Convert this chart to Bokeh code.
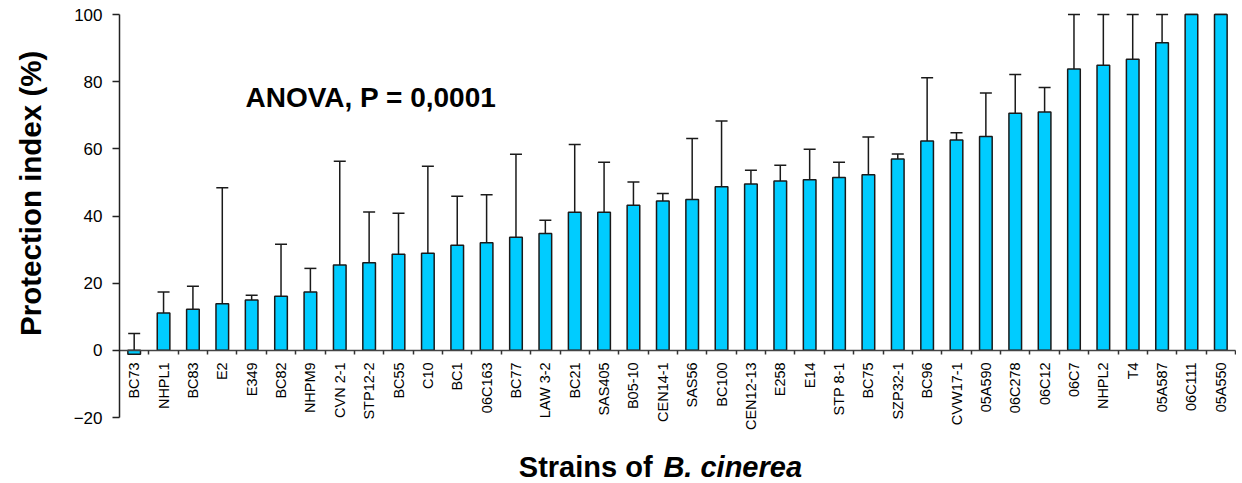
import math
from bokeh.plotting import figure
from bokeh.models import (Range1d, FixedTicker, ColumnDataSource, Whisker, TeeHead, Label)
from bokeh.core.properties import value
from bokeh.embed import file_html
from bokeh.resources import INLINE

# ---- data ----
strains = ["BC73", "NHPL1", "BC83", "E2", "E349", "BC82", "NHPM9", "CVN 2-1", "STP12-2",
           "BC55", "C10", "BC1", "06C163", "BC77", "LAW 3-2", "BC21", "SAS405", "B05-10",
           "CEN14-1", "SAS56", "BC100", "CEN12-13", "E258", "E14", "STP 8-1", "BC75",
           "SZP32-1", "BC96", "CVW17-1", "05A590", "06C278", "06C12", "06C7", "NHPL2",
           "T4", "05A587", "06C111", "05A550"]
protection = [-1.2, 11.1, 12.2, 13.9, 15.0, 16.1, 17.4, 25.4, 26.1, 28.6, 28.9, 31.3,
              32.0, 33.7, 34.8, 41.1, 41.1, 43.2, 44.5, 44.9, 48.7, 49.5, 50.4, 50.8,
              51.5, 52.3, 57.0, 62.3, 62.6, 63.7, 70.6, 71.0, 83.8, 84.9, 86.7, 91.6,
              100.0, 100.0]
error_upper = [5.0, 17.4, 19.1, 48.4, 16.4, 31.6, 24.4, 56.3, 41.2, 40.8, 54.8, 45.9,
               46.3, 58.4, 38.7, 61.3, 56.0, 50.1, 46.7, 63.1, 68.3, 53.6, 55.1, 59.9,
               56.0, 63.5, 58.5, 81.2, 64.8, 76.6, 82.1, 78.3, 100.0, 100.0, 100.0, 100.0,
               100.0, 100.0]
y_ticks = [-20, 0, 20, 40, 60, 80, 100]
y_title = "Protection index (%)"
x_title_plain = "Strains of"
x_title_italic = "B. cinerea"
note = "ANOVA, P = 0,0001"

n = len(strains)
centers = [i + 0.5 for i in range(n)]
boundaries = [i + 1 for i in range(n)]

src = ColumnDataSource(dict(x=centers, strain=strains, mean=protection, upper=error_upper))

FONT = "Liberation Sans"
INK = "#1a1a1a"

# The frame covers the whole canvas; both axes are pinned at the data origin,
# so every text lies inside the frame.
p = figure(width=1236, height=483,
           x_range=Range1d(-4.052, n + 0.034), y_range=Range1d(-39.65, 104.17),
           output_backend="svg", toolbar_location=None,
           min_border_left=0, min_border_right=0, min_border_top=0, min_border_bottom=0)
p.outline_line_color = None
p.xgrid.visible = False
p.ygrid.visible = False
p.background_fill_color = "white"

p.vbar(x="x", top="mean", bottom=0, width=0.43, source=src,
       fill_color="#00CCFF", line_color=INK, line_width=1.5)

wh = Whisker(source=src, base="x", upper="upper", lower="mean", dimension="height",
             line_color=INK, line_width=1.5,
             upper_head=TeeHead(size=12, line_color=INK, line_width=1.5),
             lower_head=None)
p.add_layout(wh)

# strain names hanging under the y = 0 axis line, rotated
p.text(x="x", y=0, text="strain", source=src, angle=math.pi / 2,
       text_align="right", text_baseline="middle", y_offset=12,
       text_font=value(FONT), text_font_size=value("14.5px"), text_color="black")

# x axis crossing at y = 0, ticks between the strains
xa = p.xaxis[0]
xa.fixed_location = 0
xa.bounds = (0, n)
xa.ticker = FixedTicker(ticks=[], minor_ticks=boundaries)
xa.major_tick_line_color = None
xa.major_tick_out = 0
xa.major_tick_in = 0
xa.minor_tick_line_color = "#333333"
xa.minor_tick_line_width = 1.5
xa.minor_tick_out = 4
xa.minor_tick_in = 0
xa.axis_line_color = "#444444"
xa.axis_line_width = 1.5

# y axis at x = 0
ya = p.yaxis[0]
ya.fixed_location = 0
ya.bounds = (y_ticks[0], y_ticks[-1])
ya.ticker = FixedTicker(ticks=y_ticks, minor_ticks=[])
ya.major_tick_out = 7
ya.major_tick_in = 0
ya.major_tick_line_width = 1.5
ya.major_tick_line_color = "#222222"
ya.axis_line_color = "#222222"
ya.axis_line_width = 1.5
ya.major_label_standoff = 10
ya.major_label_text_font = FONT
ya.major_label_text_font_size = "17px"
ya.major_label_text_color = "black"

p.add_layout(Label(x=-3.03, y=46.75, text=y_title, angle=math.pi / 2,
                   text_font=FONT, text_font_size="29.5px", text_font_style="bold",
                   text_color="black", text_align="center", text_baseline="alphabetic"))
p.add_layout(Label(x=4.29, y=75.4, text=note, text_font=FONT, text_font_size="28px",
                   text_font_style="bold", text_color="black",
                   text_align="left", text_baseline="alphabetic"))
p.add_layout(Label(x=18.15, y=-34.6, text=x_title_plain, text_font=FONT,
                   text_font_size="29px", text_font_style="bold", text_color="black",
                   text_align="right", text_baseline="alphabetic"))
p.add_layout(Label(x=18.52, y=-34.6, text=x_title_italic, text_font=FONT,
                   text_font_size="29px", text_font_style="bold italic", text_color="black",
                   text_align="left", text_baseline="alphabetic"))

open("out.html", "w").write(file_html(p, INLINE))
